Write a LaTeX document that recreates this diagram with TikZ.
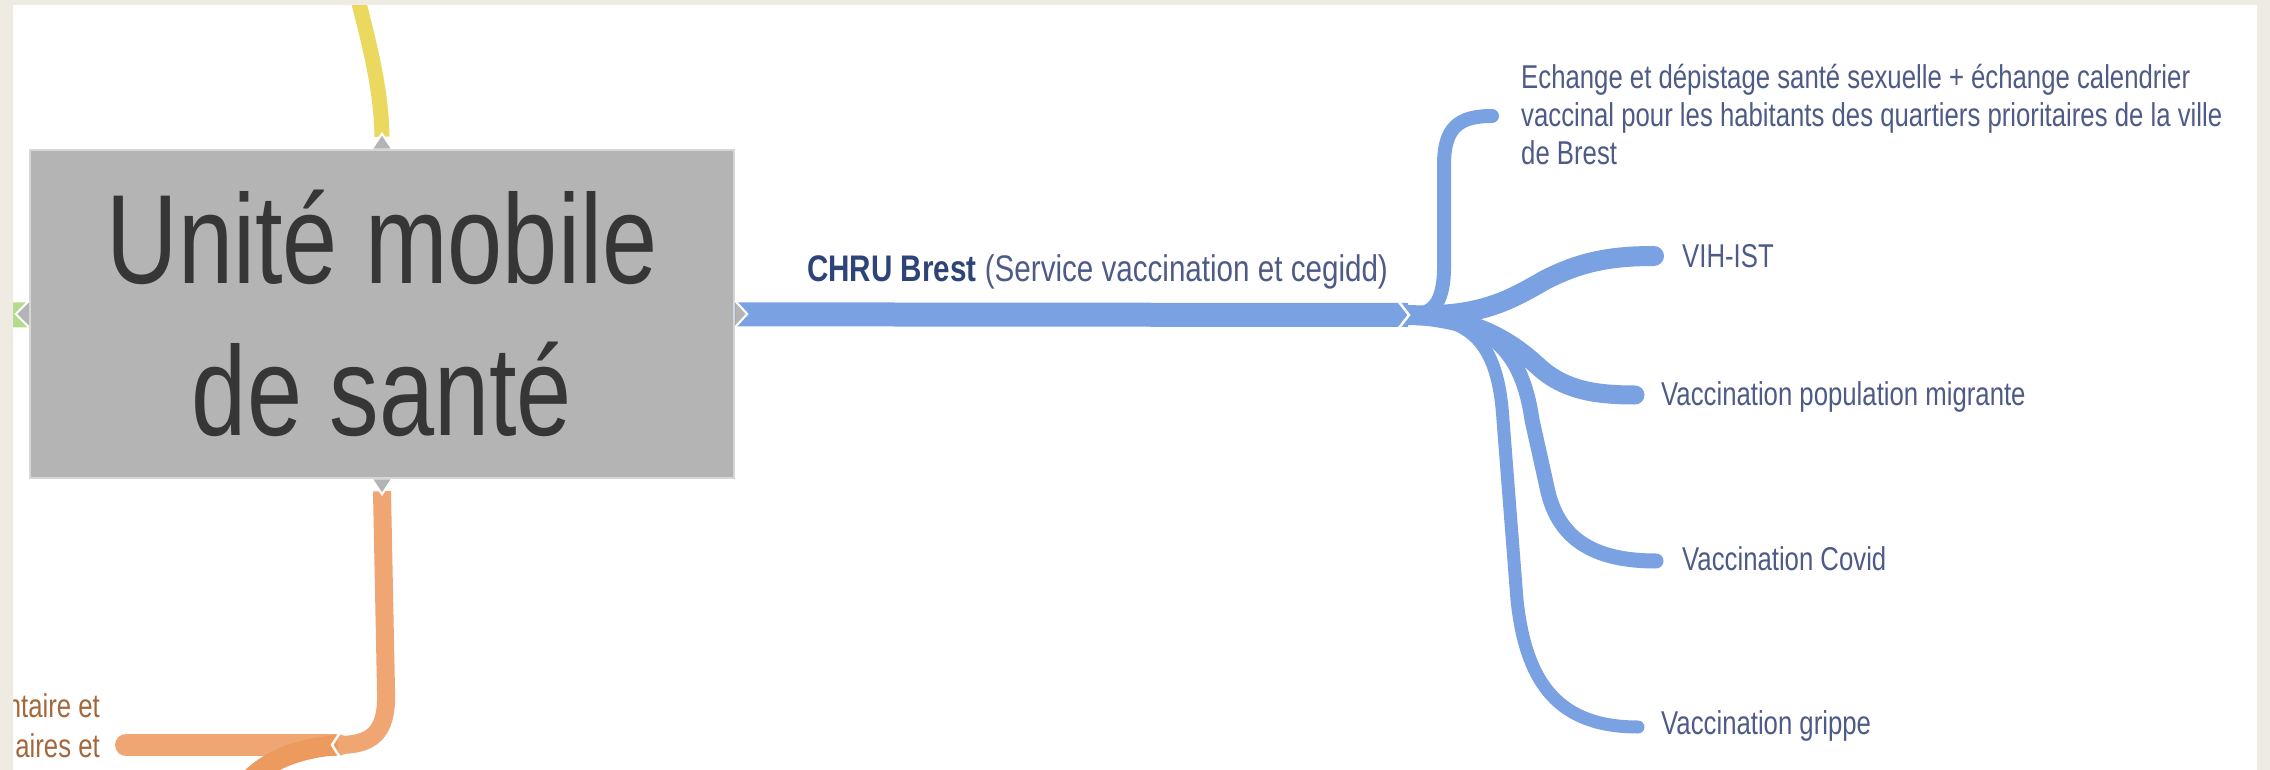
\documentclass[tikz,border=0pt]{standalone}
\usepackage{fontspec}
\setmainfont{Liberation Sans}
\usepackage{graphicx}
\usetikzlibrary{backgrounds}
\definecolor{beige}{HTML}{EEEBE3}
\definecolor{hubgray}{HTML}{B4B4B4}
\definecolor{hubedge}{HTML}{D6D6D6}
\definecolor{titlecol}{HTML}{363636}
\definecolor{brblue}{HTML}{7AA2E3}
\definecolor{txtblue}{HTML}{4F5B87}
\definecolor{boldblue}{HTML}{2E4479}
\definecolor{yel}{HTML}{EAD95E}
\definecolor{orng}{HTML}{F0A672}
\definecolor{orngdark}{HTML}{EC9A5E}
\definecolor{orngtxt}{HTML}{A5683D}
\definecolor{grn}{HTML}{B3DB8C}
\newcommand{\sq}[1]{\scalebox{0.78}[1]{#1}}
\begin{document}
\begin{tikzpicture}[x=1pt,y=-1pt,
  hubbox/.style={rectangle, fill=hubgray, draw=hubedge, line width=2.5pt,
    minimum width=704pt, minimum height=328pt, inner sep=0pt},
  notch/.style={fill=hubgray, draw=white, line width=2pt, line join=miter},
  br/.style={draw=brblue, line cap=round},
  chev/.style={draw=white, line width=2.5pt},
  small/.style={inner sep=0pt, text=txtblue, font=\fontsize{33}{38}\selectfont},
  otext/.style={inner sep=0pt, text=orngtxt, font=\fontsize{33}{40}\selectfont}]
\useasboundingbox (0,0) rectangle (2270,770);

% central node
\node[hubbox] (hub) at (382,314) {};
\node[inner sep=0pt, anchor=base, text=titlecol, font=\fontsize{127}{152}\selectfont]
  (title) at (382,283) {\sq{\begin{tabular}[t]{@{}c@{}}Unité mobile\\de santé\end{tabular}}};

% coordinates
\coordinate (ytop) at (357,-5);
\coordinate (lft) at (-5,315);
\coordinate (jn) at (1408,315);
\coordinate (eE) at (1492,116);
\coordinate (eV) at (1654,256);
\coordinate (eM) at (1635,395);
\coordinate (eC) at (1656,561);
\coordinate (eG) at (1638,727);
\coordinate (oj) at (338,745);
\coordinate (ol) at (126,745);
\coordinate (od) at (245,785);

% labels
\node[inner sep=0pt, anchor=base west, text=txtblue, font=\fontsize{37}{44}\selectfont]
  (chru) at (807,281) {\scalebox{0.8}[1]{\textcolor{boldblue}{\textbf{CHRU Brest}} (Service vaccination et cegidd)}};
\node[small, anchor=base west] (tE) at (1521,89)
  {\sq{\begin{tabular}[t]{@{}l@{}}Echange et dépistage santé sexuelle + échange calendrier\\vaccinal pour les habitants des quartiers prioritaires de la ville\\de Brest\end{tabular}}};
\node[small, anchor=base west] (tV) at (1682,267) {\sq{VIH-IST}};
\node[small, anchor=base west] (tM) at (1661,405) {\sq{Vaccination population migrante}};
\node[small, anchor=base west] (tC) at (1682,570) {\sq{Vaccination Covid}};
\node[small, anchor=base west] (tG) at (1661,734) {\sq{Vaccination grippe}};
\node[otext, anchor=base east] (tO) at (100,717)
  {\sq{\begin{tabular}[t]{@{}r@{}}ntaire et\\aires et\end{tabular}}};

% notches
\filldraw[notch] ([xshift=-10pt]hub.north) -- ([yshift=15pt]hub.north) -- ([xshift=10pt]hub.north);
\filldraw[notch] ([xshift=-10pt]hub.south) -- ([yshift=-15pt]hub.south) -- ([xshift=10pt]hub.south);
\filldraw[notch] ([yshift=13pt]hub.east) -- ([xshift=12pt]hub.east) -- ([yshift=-13pt]hub.east);
\filldraw[notch] ([yshift=13pt]hub.west) -- ([xshift=-13pt]hub.west) -- ([yshift=-13pt]hub.west);

\begin{scope}[on background layer]
  \fill[white] (0,0) rectangle (2270,770);
  % green (off frame)
  \draw[grn, line width=25pt] (hub.center) -- (lft);
  % yellow
  \draw[yel, line width=15pt] (ytop) .. controls (368,40) and (381,85) .. ([yshift=12pt]hub.north);
  % orange
  \draw[orng, line width=18pt] ([yshift=-12pt]hub.south) -- (386,690) .. controls (388,735) and (370,745) .. (oj);
  \draw[orng, line width=22pt, line cap=round] (oj) -- (ol);
  \draw[orngdark, line width=20pt] (oj) .. controls (300,748) and (265,760) .. (od);
  \draw[chev] (341,731) -- (332,745) -- (341,759);
  % blue main
  \draw[draw=brblue, line width=24pt] (hub.center) -- (jn);
  % branches
  \draw[br, line width=14pt] (jn) .. controls (1432,315) and (1443,305) .. (1444,270) -- (1444,165) .. controls (1444,128) and (1458,116) .. (eE);
  \draw[br, line width=13pt] (jn) .. controls (1470,318) and (1498,340) .. (1503,420) -- (1517,600) .. controls (1526,685) and (1560,727) .. (eG);
  \draw[br, line width=15pt] (jn) .. controls (1490,318) and (1522,350) .. (1532,420) -- (1548,492) .. controls (1560,542) and (1598,561) .. (eC);
  \draw[br, line width=19pt] (jn) .. controls (1480,318) and (1515,345) .. (1540,368) .. controls (1565,390) and (1595,395) .. (eM);
  \draw[br, line width=20pt] (jn) .. controls (1480,318) and (1510,300) .. (1545,280) .. controls (1580,262) and (1610,256) .. (eV);
  \draw[chev] (1399,302) -- (1409,315) -- (1399,328);
\end{scope}

% frame
\fill[beige, even odd rule] (0,0) rectangle (2270,770) (13,5) rectangle (2257,775);
\end{tikzpicture}
\end{document}
